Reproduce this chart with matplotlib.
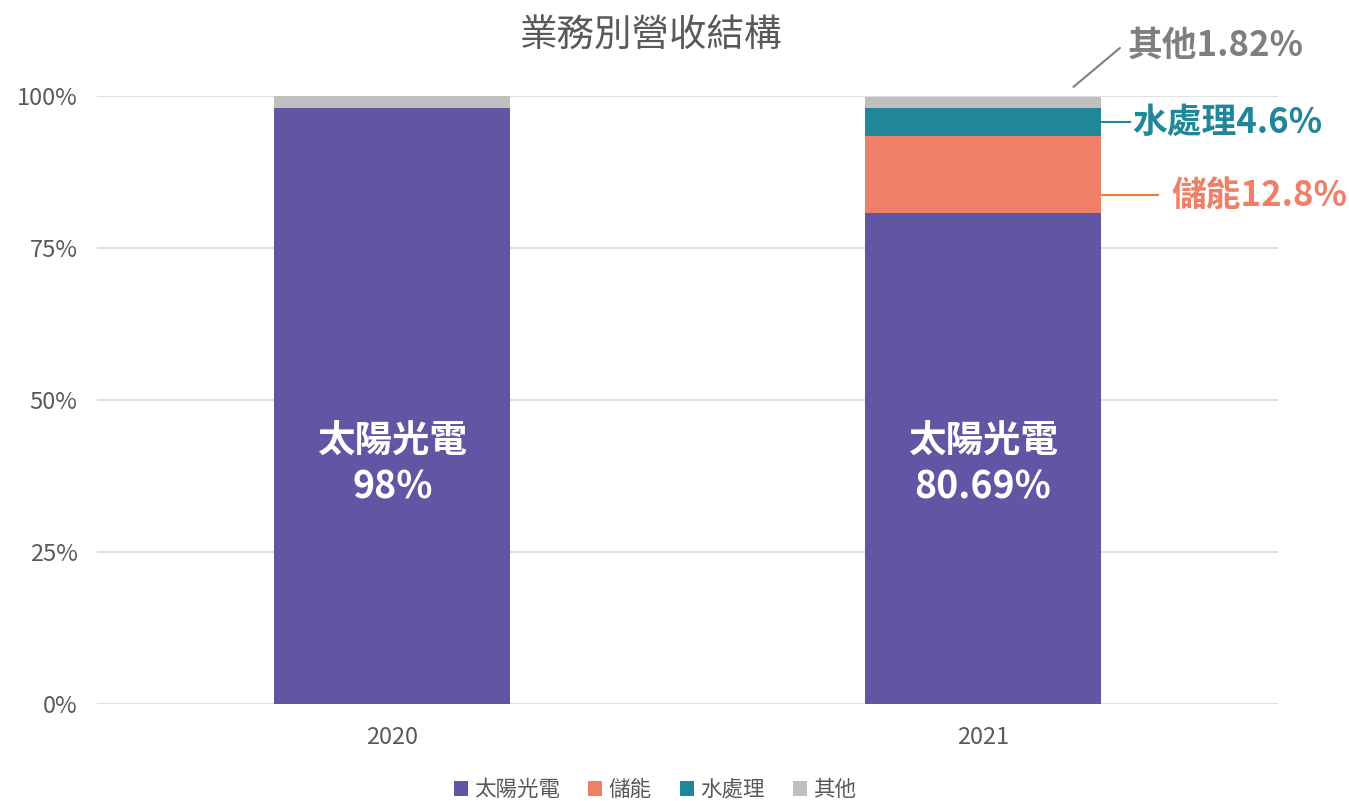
import matplotlib
matplotlib.use('Agg')
import matplotlib.pyplot as plt
import numpy as np

plt.rcParams['font.family'] = ['Noto Sans CJK TC', 'DejaVu Sans']

# data
years = ['2020', '2021']
segments = ['太陽光電', '儲能', '水處理', '其他']
solar = [98.0, 80.69]
storage = [0.0, 12.8]
water = [0.0, 4.6]
other = [2.0, 1.82]
colors = ['#6156A3', '#F07F67', '#1F8799', '#BFBFBF']

fig = plt.figure(figsize=(13.49, 8.01), dpi=100)
ax = fig.add_axes([97 / 1349, 1 - 704 / 801, (1278 - 97) / 1349, 608 / 801])

x = np.arange(len(years))
bottom = np.zeros(len(years))
for name, vals, c in zip(segments, [solar, storage, water, other], colors):
    ax.bar(x, vals, 0.4, bottom=bottom, color=c, label=name, zorder=3)
    bottom += np.array(vals)

ax.set_xlim(-0.5, 1.5)
ax.set_ylim(0, 100)
ax.set_yticks([0, 25, 50, 75, 100])
ax.set_yticklabels([f'{v}%' for v in [0, 25, 50, 75, 100]])
ax.set_xticks(x)
ax.set_xticklabels(years)
ax.tick_params(length=0, labelsize=17, colors='#595959')
ax.tick_params(axis='x', pad=16)
ax.tick_params(axis='y', pad=14)
ax.grid(axis='y', color='#D9D9D9', linewidth=1.2, zorder=0)
for s in ax.spines.values():
    s.set_visible(False)

# in-bar labels
for i in range(len(years)):
    ax.text(x[i], 43.4, '太陽光電', ha='center', va='center',
            color='white', fontsize=27, fontweight='bold')
    ax.text(x[i], 35.7, f'{solar[i]:g}%', ha='center', va='center',
            color='white', fontsize=27, fontweight='bold')

# callouts for 2021
edge = x[1] + 0.2
mid_water = solar[1] + storage[1] + water[1] / 2

ax.annotate('', xy=(edge - 0.05, 101.2), xytext=(edge + 0.036, 108.2),
            arrowprops=dict(arrowstyle='-', color='#7F7F7F', lw=1.5),
            annotation_clip=False)
ax.text(edge + 0.046, 108.4, f'其他{other[1]}%', ha='left', va='center',
        color='#7F7F7F', fontsize=25, fontweight='bold', clip_on=False)

ax.plot([edge, edge + 0.049], [mid_water, mid_water], color='#1F8799', lw=1.5,
        clip_on=False)
ax.text(edge + 0.054, mid_water - 0.2, f'水處理{water[1]}%', ha='left', va='center',
        color='#1F8799', fontsize=25, fontweight='bold', clip_on=False)

ax.plot([edge, edge + 0.097], [83.7, 83.7], color='#ED7D31', lw=1.5,
        clip_on=False)
ax.text(edge + 0.12, 83.7, f'儲能{storage[1]}%', ha='left', va='center',
        color='#F07F67', fontsize=25, fontweight='bold', clip_on=False)

fig.text(651 / 1349, 1 - 35 / 801, '業務別營收結構', ha='center', va='center',
         fontsize=27, color='#595959')

fig.legend(loc='center', bbox_to_anchor=(655 / 1349, 1 - 790 / 801), ncol=4,
           frameon=False, fontsize=15.5, handlelength=0.65, handleheight=0.65,
           handletextpad=0.3, columnspacing=1.3, labelcolor='#595959')

fig.savefig('out.png', dpi=100)
